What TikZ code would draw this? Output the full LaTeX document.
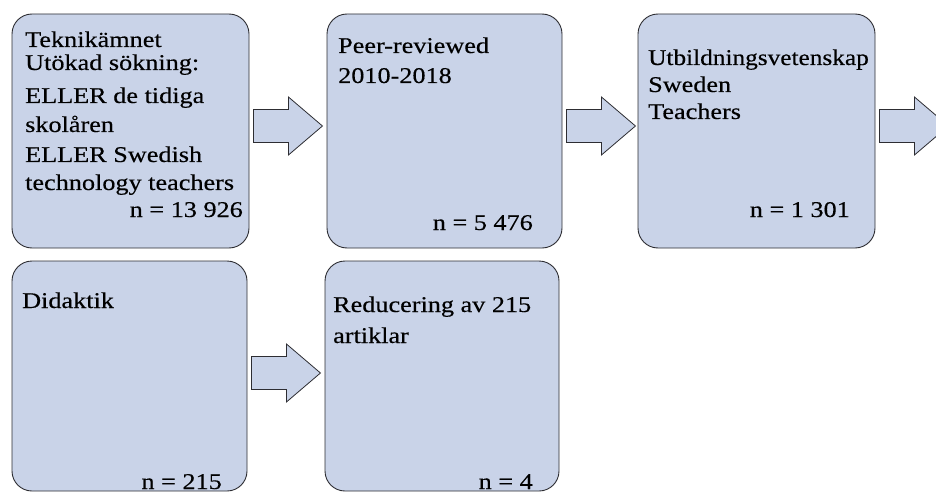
\documentclass[tikz,border=0pt]{standalone}
\usepackage{fontspec}
\setmainfont{Liberation Serif}[FakeStretch=1.165,FakeBold=0.35]
\usetikzlibrary{calc}
\definecolor{boxfill}{RGB}{201,211,232}
\definecolor{boxline}{RGB}{45,45,50}
\tikzset{
  box/.style={draw=boxline, fill=boxfill, line width=0.9pt, rounded corners=20pt, inner sep=0pt},
  txt/.style={inner sep=0pt, font=\fontsize{22.5}{29}\selectfont, text=black},
  blockarrow/.pic={
    \draw[draw=boxline, fill=boxfill, line width=0.8pt, line join=miter]
      (0,-16.5) -- (35,-16.5) -- (35,-29) -- (69,0) -- (35,29) -- (35,16.5) -- (0,16.5) -- cycle;
  }
}
\begin{document}
\begin{tikzpicture}[x=1pt,y=-1pt]
\useasboundingbox (0,0) rectangle (936,492);
% boxes
\node[box, minimum width=237pt, minimum height=234pt] (b1) at (130.5,131) {};
\node[box, minimum width=235pt, minimum height=234pt] (b2) at (444.5,131) {};
\node[box, minimum width=237pt, minimum height=234pt] (b3) at (756.5,131) {};
\node[box, minimum width=235pt, minimum height=230pt] (b4) at (129.5,376) {};
\node[box, minimum width=234pt, minimum height=230pt] (b5) at (442,376) {};
% arrows
\pic at ($(b1.east)+(4,-5)$) {blockarrow};
\pic at ($(b2.east)+(4,-5)$) {blockarrow};
\pic at ($(b3.east)+(4,-5)$) {blockarrow};
\pic at ($(b4.east)+(4,-3)$) {blockarrow};
% texts
\node[txt, anchor=base west] (t1) at (25,47) {\begin{tabular}[t]{@{}l@{}}Teknikämnet\\[-6pt] Utökad sökning:\\[4pt] ELLER de tidiga\\ skolåren\\[1pt] ELLER Swedish\\[-1pt] technology teachers\end{tabular}};
\node[txt, anchor=base east] (n1) at (243,217) {n = 13 926};
\node[txt, anchor=base west] (t2) at (338,53) {\begin{tabular}[t]{@{}l@{}}Peer-reviewed\\[1pt] 2010-2018\end{tabular}};
\node[txt, anchor=base east] (n2) at (533,230) {n = 5 476};
\node[txt, anchor=base west] (t3) at (648,65) {\begin{tabular}[t]{@{}l@{}}\scalebox{0.965}[1]{Utbildningsvetenskap}\\[-2pt] Sweden\\[-2pt] Teachers\end{tabular}};
\node[txt, anchor=base east] (n3) at (850,217) {n = 1 301};
\node[txt, anchor=base west] (t4) at (22,308) {Didaktik};
\node[txt, anchor=base east] (n4) at (222,489) {n = 215};
\node[txt, anchor=base west] (t5) at (333,312) {\begin{tabular}[t]{@{}l@{}}Reducering av 215\\[2pt] artiklar\end{tabular}};
\node[txt, anchor=base east] (n5) at (533,489) {n = 4};
\end{tikzpicture}
\end{document}
